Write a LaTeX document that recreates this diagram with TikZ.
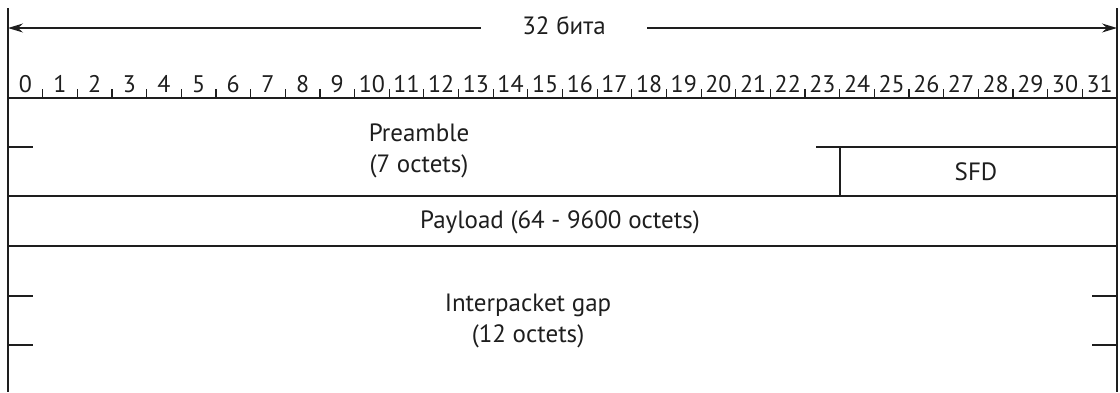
\documentclass[tikz,border=0pt]{standalone}
\usepackage{fontspec}
\setmainfont{PT Sans}
\usetikzlibrary{arrows.meta}
\definecolor{FrameGray}{HTML}{1E1E1E}
\tikzset{
  lbl/.style={font=\fontsize{25}{31}\selectfont},
  bitnum/.style={font=\fontsize{24}{28}\selectfont,anchor=base,inner sep=0pt},
  edge/.style={line width=1.8pt}
}

\begin{document}
\begin{tikzpicture}[x=1pt,y=-1pt,>={Stealth[length=15pt,width=9pt,inset=5pt]},line width=1.2pt,color=FrameGray]
\useasboundingbox (0,0) rectangle (1120,392);
% outer frame
\draw[edge] (8,8)--(8,392) (1117,8)--(1117,392);
% width of a row
\coordinate (lend) at (8,28);
\coordinate (rend) at (1117,28);
\node[lbl,anchor=base,inner xsep=41pt] (width) at (564,34) {32 бита};
\draw[->] (width.west |- lend)--(lend);
\draw[->] (width.east |- rend)--(rend);
% bit ruler
\draw (8,98)--(1117,98);
\foreach \i in {1,...,31}
  \draw (8+34.656*\i,98)--(8+34.656*\i,89);
\foreach \i in {0,...,31}
  \node[bitnum] (b\i) at (25.33+34.656*\i,92) {\i};
% preamble and SFD
\draw (8,147)--(33,147);
\draw (816,147)--(1117,147) (840,147)--(840,196);
\draw (8,196)--(1117,196);
\node[lbl,align=center] (pre) at (419,151) {Preamble\\(7 octets)};
\node[lbl,anchor=base] (sfd) at (976,180) {SFD};
% payload
\draw (8,246)--(1117,246);
\node[lbl,anchor=base] (pay) at (560,228) {Payload (64 - 9600 octets)};
% interpacket gap
\draw (8,296)--(33,296) (8,345)--(33,345);
\draw (1092,296)--(1117,296) (1092,345)--(1117,345);
\node[lbl,align=center] (ipg) at (528,321) {Interpacket gap\\(12 octets)};
\end{tikzpicture}
\end{document}
